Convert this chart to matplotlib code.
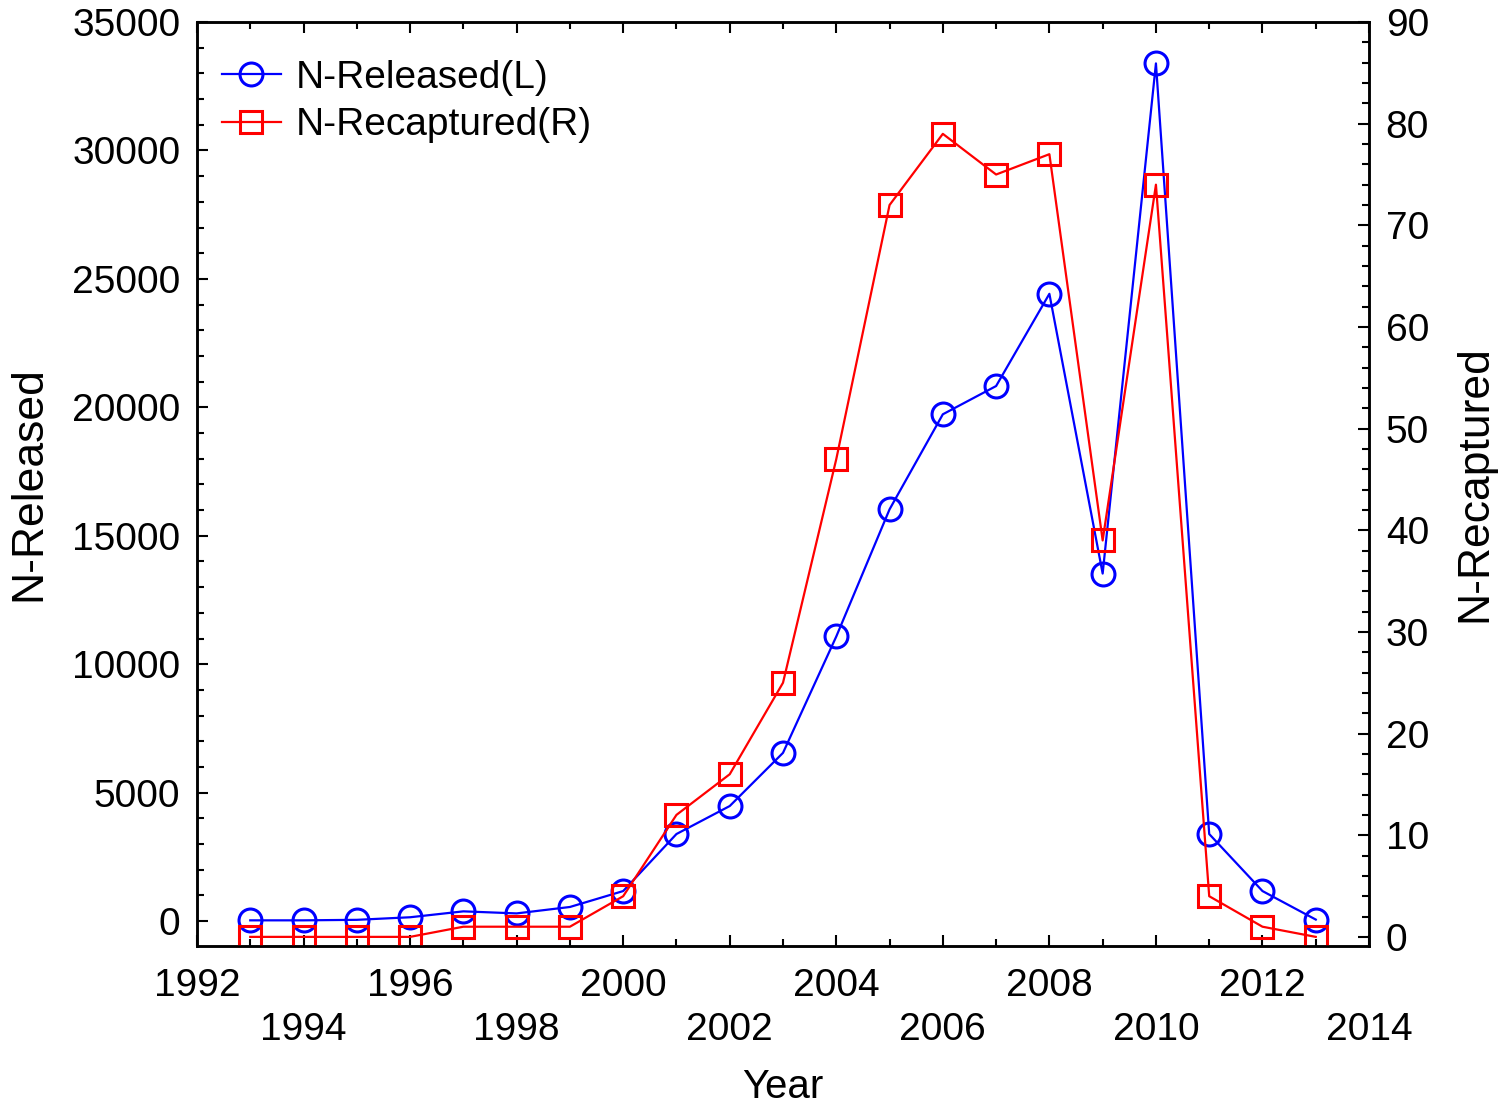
import matplotlib
matplotlib.use('Agg')
import matplotlib.pyplot as plt
from matplotlib.ticker import MultipleLocator

plt.rcParams['font.family'] = ['Liberation Sans', 'DejaVu Sans']

# data
years = list(range(1993, 2014))
released = [30, 30, 50, 150, 380, 300, 550, 1170, 3390, 4480, 6550, 11080,
            16030, 19730, 20830, 24420, 13530, 33390, 3390, 1170, 60]
recaptured = [0, 0, 0, 0, 1, 1, 1, 4, 12, 16, 25, 47, 72, 79, 75, 77, 39, 74, 4, 1, 0]
xtick_vals = list(range(1992, 2015, 2))

fs = 28
lfs = 32
fig = plt.figure(figsize=(14.99, 11.02), dpi=100)
ax = fig.add_axes([0.1314, 0.1420, 0.7819, 0.8380])
ax2 = ax.twinx()

l1, = ax.plot(years, released, color='#0000ff', lw=1.6, marker='o', ms=16.5,
              mfc='none', mec='#0000ff', mew=2.2, label='N-Released(L)')
l2, = ax2.plot(years, recaptured, color='#ff0000', lw=1.6, marker='s', ms=16.5,
               mfc='none', mec='#ff0000', mew=2.2, label='N-Recaptured(R)')

ax.set_xlim(1992, 2014)
ax.set_ylim(-950, 35000)
ax2.set_ylim(-0.85, 90)

ax.xaxis.set_minor_locator(MultipleLocator(1))
ax.yaxis.set_major_locator(MultipleLocator(5000))
ax.yaxis.set_minor_locator(MultipleLocator(1000))
ax2.yaxis.set_major_locator(MultipleLocator(10))
ax2.yaxis.set_minor_locator(MultipleLocator(2))

ax.set_xticks(xtick_vals)
labs = [str(v) if i % 2 == 0 else '\n' + str(v) for i, v in enumerate(xtick_vals)]
ax.set_xticklabels(labs)
for t in ax.get_xticklabels():
    t.set_linespacing(1.3)

ax.tick_params(axis='both', which='both', direction='in', labelsize=fs, width=1.5)
ax.tick_params(axis='x', which='both', top=True, pad=16)
ax.tick_params(axis='y', which='both', right=False, pad=12)
ax.tick_params(which='major', length=8)
ax.tick_params(which='minor', length=5)
ax2.tick_params(axis='y', which='both', direction='in', labelsize=fs, width=1.5, pad=12)
ax2.tick_params(which='major', length=8)
ax2.tick_params(which='minor', length=5)

for a in (ax, ax2):
    for s in a.spines.values():
        s.set_linewidth(1.8)

ax.set_xlabel('Year', fontsize=29, labelpad=14)
ax.set_ylabel('N-Released', fontsize=lfs, labelpad=16)
ax2.set_ylabel('N-Recaptured', fontsize=lfs, labelpad=18)

ax2.legend(handles=[l1, l2], loc='upper left', frameon=False, fontsize=fs,
           handlelength=1.5, handletextpad=0.4, labelspacing=0.3,
           borderaxespad=0.4, bbox_to_anchor=(-0.005, 0.993))

fig.savefig('out.png', dpi=100)
